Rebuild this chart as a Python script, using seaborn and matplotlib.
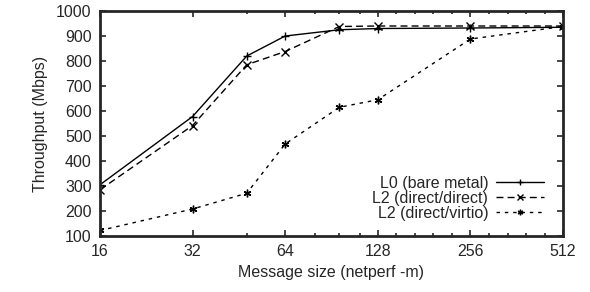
import numpy as np
import pandas as pd
import matplotlib
matplotlib.use("Agg")
import matplotlib.pyplot as plt
from matplotlib.ticker import FixedLocator, NullFormatter
import seaborn as sns

# message sizes (netperf -m)
sizes = [16, 32, 48, 64, 96, 128, 256, 512]

l0_bare = [305, 578, 820, 900, 925, 930, 932, 935]
l2_direct = [285, 542, 785, 838, 938, 940, 940, 940]
l2_virtio = [122, 208, 271, 468, 615, 645, 888, 938]

names = ["L0 (bare metal)", "L2 (direct/direct)", "L2 (direct/virtio)"]
xticks = [16, 32, 64, 128, 256, 512]
minor_x = [48, 80, 96, 112, 147, 169, 194, 223, 294, 338, 388, 446]

df = pd.DataFrame({
    "size": sizes * 3,
    "tput": l0_bare + l2_direct + l2_virtio,
    "series": [names[0]] * 8 + [names[1]] * 8 + [names[2]] * 8,
})

sns.set_style("ticks")
plt.rcParams["font.family"] = ["Liberation Sans", "DejaVu Sans"]
fs = 11.5

fig = plt.figure(figsize=(5.9, 2.92), dpi=100)
ax = fig.add_axes([0.1695, 0.1918, 0.7847, 0.7705])

sns.lineplot(
    data=df, x="size", y="tput", hue="series", style="series",
    palette=["black"] * 3,
    dashes={names[0]: "", names[1]: (5, 3), names[2]: (2.5, 3.5)},
    markers={names[0]: "+", names[1]: "x", names[2]: (6, 2, 0)},
    markersize=5.5, markeredgewidth=1, markeredgecolor="black", linewidth=1,
    ax=ax,
)

ax.set_xscale("log", base=2)
ax.set_xlim(16, 512)
ax.set_ylim(100, 1000)
ax.xaxis.set_major_locator(FixedLocator(xticks))
ax.set_xticklabels([str(t) for t in xticks])
ax.xaxis.set_minor_locator(FixedLocator(minor_x))
ax.xaxis.set_minor_formatter(NullFormatter())
ax.set_yticks(range(100, 1001, 100))

for s in ax.spines.values():
    s.set_visible(True)
    s.set_linewidth(2)
ax.tick_params(which="both", direction="in", top=True, right=True,
               labelsize=fs, width=1.2)
ax.tick_params(which="major", length=4, pad=6)
ax.tick_params(which="minor", length=2.5)

ax.set_xlabel("Message size (netperf -m)", fontsize=fs, labelpad=4)
ax.set_ylabel("Throughput (Mbps)", fontsize=fs, labelpad=6)

leg = ax.legend(loc="lower right", bbox_to_anchor=(0.973, 0.038),
                frameon=False, markerfirst=False,
                fontsize=fs, handlelength=3.0, labelspacing=0.0,
                borderaxespad=0.0, handletextpad=0.5)
for h in leg.legend_handles:
    h.set_markersize(4)

fig.savefig("out.png", dpi=100)
